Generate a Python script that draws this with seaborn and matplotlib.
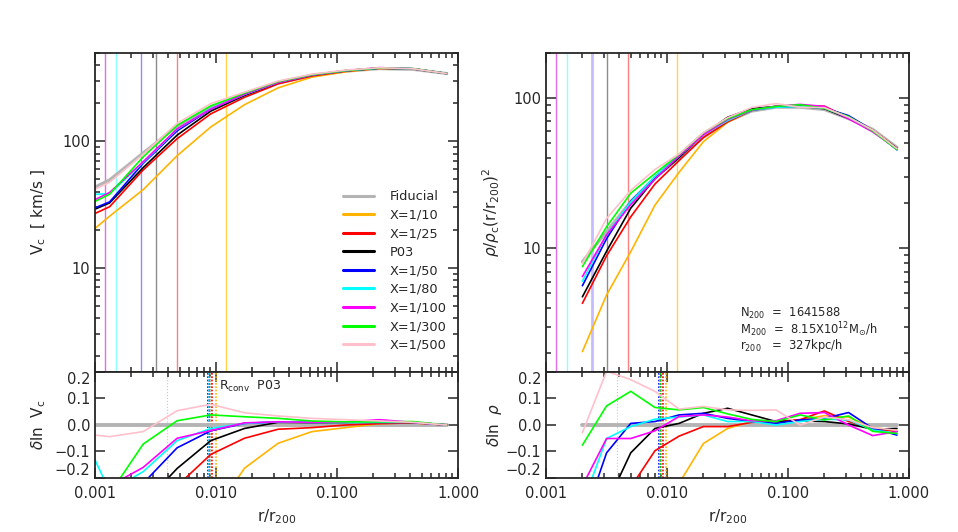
import numpy as np
import pandas as pd
import matplotlib
matplotlib.use("Agg")
import matplotlib.pyplot as plt
import seaborn as sns
from matplotlib.ticker import LogLocator, FuncFormatter, MultipleLocator, NullFormatter

# ---- data ----
runs = ['Fiducial', 'X=1/10', 'X=1/25', 'P03', 'X=1/50', 'X=1/80', 'X=1/100', 'X=1/300', 'X=1/500']
colors = ['#b4b4b4', '#ffb400', '#ff0000', '#000000', '#0000ff', '#00ffff', '#ff00ff', '#00ff00', '#ffc0cb']

# circular velocity radii (left panel)
r_vc = [0.001, 0.00132, 0.0025, 0.00477, 0.00905, 0.0172, 0.0326, 0.062, 0.118, 0.224, 0.425, 0.807]
vc = {
    'Fiducial': [43.5, 49.6, 81, 132, 184, 234, 290, 332, 359, 376, 371, 344],
    'X=1/10':   [20.5, 25.6, 41.5, 77, 130, 195, 265, 322, 355, 378, 374, 344],
    'X=1/25':   [26.9, 30.4, 59.4, 105, 165, 223, 285, 329, 359, 378, 374, 344],
    'P03':      [29.1, 32.6, 62, 112, 173.5, 231, 293, 335, 362, 380, 375, 344],
    'X=1/50':   [29.8, 33.2, 67, 121, 180, 235, 293, 335, 362, 380, 375, 344],
    'X=1/80':   [38.1, 38.6, 68, 124.5, 181.6, 235, 293, 335, 362, 380, 375, 344],
    'X=1/100':  [34.6, 39.4, 69, 125.6, 180, 236, 293, 335, 363, 383, 375, 344],
    'X=1/300':  [33.5, 38.2, 75.4, 134, 191, 241, 297, 337, 363, 380, 376, 344],
    'X=1/500':  [41.9, 47.5, 79, 139, 199, 245, 300, 340, 366, 382, 375, 344],
}
dvc = {
    'Fiducial': [0, 0, 0, 0, 0, 0, 0, 0, 0, 0, 0, 0],
    'X=1/10':   [-0.75, -0.66, -0.67, -0.54, -0.35, -0.163, -0.069, -0.025, -0.01, 0.005, 0.008, 0.0],
    'X=1/25':   [-0.48, -0.49, -0.31, -0.23, -0.111, -0.05, -0.016, -0.01, 0.0, 0.005, 0.008, 0.0],
    'P03':      [-0.4, -0.42, -0.3, -0.164, -0.059, -0.013, 0.01, 0.009, 0.01, 0.012, 0.01, 0.0],
    'X=1/50':   [-0.38, -0.4, -0.22, -0.086, -0.022, 0.006, 0.012, 0.01, 0.01, 0.01, 0.01, 0.0],
    'X=1/80':   [-0.132, -0.25, -0.176, -0.059, -0.013, 0.006, 0.012, 0.01, 0.01, 0.01, 0.01, 0.0],
    'X=1/100':  [-0.23, -0.23, -0.16, -0.05, -0.021, 0.008, 0.012, 0.01, 0.012, 0.02, 0.01, 0.0],
    'X=1/300':  [-0.26, -0.26, -0.072, 0.016, 0.038, 0.031, 0.025, 0.015, 0.012, 0.012, 0.013, 0.0],
    'X=1/500':  [-0.038, -0.044, -0.025, 0.054, 0.078, 0.046, 0.034, 0.025, 0.02, 0.015, 0.01, 0.0],
}

# density radii (right panel)
r_rho = [0.002, 0.00317, 0.00502, 0.00796, 0.0126, 0.02, 0.0317, 0.0502, 0.0796, 0.126, 0.2, 0.317, 0.502, 0.796]
rho = {
    'Fiducial': [8.15, 12.9, 20.5, 29.5, 40, 55, 70, 82, 87, 87, 84, 73, 62, 47],
    'X=1/10':   [2.05, 4.89, 9.49, 19.4, 32.1, 51.3, 69.1, 83.1, 88.1, 88.7, 87.0, 75.2, 61.4, 46.1],
    'X=1/25':   [4.3, 8.91, 16.2, 26.8, 38.4, 54.7, 69.6, 82.8, 88.1, 88.7, 88.5, 73.9, 61.2, 45.8],
    'P03':      [4.75, 9.56, 18.5, 29.1, 40.2, 57.5, 74.6, 85.2, 88.1, 88.3, 85.1, 73.3, 61.0, 46.4],
    'X=1/50':   [5.63, 11.6, 20.6, 29.9, 41.6, 57.5, 71.8, 83.1, 87.5, 88.7, 86.1, 76.5, 61.2, 45.3],
    'X=1/80':   [6.04, 12.3, 20.4, 30.1, 41.2, 57.1, 70.9, 83.1, 87, 88.1, 85.8, 74.4, 60.8, 45.5],
    'X=1/100':  [6.48, 12.3, 19.5, 28.9, 41.3, 57.1, 72.1, 83.3, 88.4, 90.9, 88.1, 73, 59.6, 45.8],
    'X=1/300':  [7.55, 13.9, 23.3, 31.5, 42.3, 58.8, 73, 83.7, 88.1, 90.4, 85.6, 75.5, 60.5, 45.5],
    'X=1/500':  [7.91, 15.8, 24.3, 33.5, 42.5, 59, 74.1, 86.7, 92.1, 87, 86.5, 74.5, 61.4, 46.1],
}
drho = {
    'Fiducial': [0] * 14,
    'X=1/10':   [-1.38, -0.97, -0.77, -0.42, -0.22, -0.07, -0.013, 0.013, 0.013, 0.02, 0.035, 0.03, -0.01, -0.02],
    'X=1/25':   [-0.64, -0.37, -0.235, -0.097, -0.042, -0.006, -0.006, 0.01, 0.013, 0.02, 0.053, 0.013, -0.013, -0.025],
    'P03':      [-0.54, -0.3, -0.105, -0.013, 0.006, 0.044, 0.063, 0.038, 0.013, 0.015, 0.013, 0.004, -0.016, -0.013],
    'X=1/50':   [-0.37, -0.105, 0.006, 0.013, 0.038, 0.044, 0.025, 0.013, 0.006, 0.019, 0.025, 0.047, -0.013, -0.038],
    'X=1/80':   [-0.3, -0.051, -0.006, 0.022, 0.03, 0.038, 0.013, 0.013, 0.0, 0.013, 0.022, 0.019, -0.019, -0.032],
    'X=1/100':  [-0.23, -0.051, -0.051, -0.022, 0.032, 0.038, 0.03, 0.016, 0.016, 0.044, 0.047, 0.0, -0.04, -0.025],
    'X=1/300':  [-0.076, 0.072, 0.127, 0.066, 0.057, 0.066, 0.042, 0.021, 0.013, 0.038, 0.019, 0.034, -0.024, -0.032],
    'X=1/500':  [-0.029, 0.203, 0.171, 0.127, 0.06, 0.07, 0.057, 0.055, 0.057, 0.0, 0.03, 0.02, -0.01, -0.02],
}

# softening markers (top panels) and convergence radii (bottom panels)
soft_r = [0.0012, 0.0015, 0.0024, 0.0032, 0.0048, 0.0121]
soft_col = ['#e070e8', '#90ffff', '#8c8cff', '#8c8c8c', '#ff8080', '#ffd24d']
conv_r = [0.0086, 0.0087, 0.0088, 0.0089, 0.0090, 0.0091, 0.0093, 0.0099]
conv_col = ['#0000ff', '#ff00ff', '#00ffff', '#000000', '#00ff00', '#ffc0cb', '#ff0000', '#ffb400']
info_lines = [r'N$_{200}$  =  1641588',
              r'M$_{200}$  =  8.15X10$^{12}$M$_{\odot}$/h',
              r'r$_{200}$   =  327kpc/h']

sns.set_style("ticks")
plt.rcParams['font.family'] = ['DejaVu Sans']
plt.rcParams['mathtext.fontset'] = 'dejavusans'

fig = plt.figure(figsize=(9.58, 5.32), dpi=100)
ax_vc = fig.add_axes([0.0992, 0.3008, 0.3789, 0.5996])
ax_dvc = fig.add_axes([0.0992, 0.1015, 0.3789, 0.1993])
ax_rho = fig.add_axes([0.5699, 0.3008, 0.3789, 0.5996])
ax_drho = fig.add_axes([0.5699, 0.1015, 0.3789, 0.1993])


def draw(ax, x, data, legend=False, fid_lw=2.2):
    for name, c in zip(runs, colors):
        lw = fid_lw if name == 'Fiducial' else 1.2
        sns.lineplot(x=x, y=data[name], color=c, lw=lw, ax=ax, sort=False,
                     estimator=None, label=name if legend else None, legend=False)


for ax in (ax_vc, ax_rho):
    for xr, c in zip(soft_r, soft_col):
        lw = 2.0 if (ax is ax_rho and c == '#8c8cff') else 1.0
        col = '#c4bcff' if lw == 2.0 else c
        ax.axvline(xr, color=col, lw=lw, zorder=0)

for ax in (ax_dvc, ax_drho):
    ax.axvline(0.0039, color='#c8c8c8', lw=0.8, ls=':', zorder=0)
    for xr, c in zip(conv_r, conv_col):
        ax.axvline(xr, color=c, lw=1.2, ls=(0, (1, 1)), zorder=1)

draw(ax_vc, r_vc, vc, legend=True)
draw(ax_dvc, r_vc, dvc, fid_lw=2.8)
draw(ax_rho, r_rho, rho)
draw(ax_drho, r_rho, drho, fid_lw=2.8)

fmt_x = FuncFormatter(lambda v, p: f'{v:.3f}')
fmt_y = FuncFormatter(lambda v, p: f'{v:g}')

for ax in (ax_vc, ax_dvc, ax_rho, ax_drho):
    ax.set_xscale('log')
    ax.set_xlim(0.001, 1.0)
    ax.xaxis.set_major_locator(LogLocator(base=10, numticks=10))
    ax.xaxis.set_minor_locator(LogLocator(base=10, subs=np.arange(2, 10), numticks=10))
    ax.tick_params(which='both', direction='in', top=True, right=True, labelsize=10.5, width=1.1)
    ax.tick_params(which='major', length=7)
    ax.tick_params(which='minor', length=3.5)
    for s in ax.spines.values():
        s.set_linewidth(1.3)
    ax.set_xlabel('')
    ax.set_ylabel('')

for ax in (ax_vc, ax_rho):
    ax.set_yscale('log')
    ax.yaxis.set_major_locator(LogLocator(base=10, numticks=10))
    ax.yaxis.set_minor_locator(LogLocator(base=10, subs=np.arange(2, 10), numticks=10))
    ax.yaxis.set_major_formatter(fmt_y)
    ax.yaxis.set_minor_formatter(NullFormatter())
    ax.xaxis.set_major_formatter(NullFormatter())
    ax.xaxis.set_minor_formatter(NullFormatter())

ax_vc.set_ylim(1.5, 500)
ax_rho.set_ylim(1.5, 200)

for ax in (ax_dvc, ax_drho):
    ax.set_ylim(-0.2, 0.2)
    ax.yaxis.set_major_locator(MultipleLocator(0.1))
    ax.yaxis.set_major_formatter(FuncFormatter(lambda v, p: f'{v:.1f}'.replace('-', '\u2212')))
    ax.xaxis.set_major_formatter(fmt_x)
    ax.xaxis.set_minor_formatter(NullFormatter())
    ax.tick_params(axis='x', which='major', pad=6)
    ax.set_xlabel(r'r/r$_{200}$', fontsize=11)

ax_vc.set_ylabel(r'V$_{\rm c}$  [ km/s ]', fontsize=11)
ax_vc.yaxis.set_label_coords(-0.13, 0.5)
ax_dvc.set_ylabel(r'$\delta$ln  V$_{\rm c}$', fontsize=11)
ax_dvc.yaxis.set_label_coords(-0.13, 0.5)
ax_rho.set_ylabel(r'$\rho/\rho_{\rm c}({\rm r/r_{200}})^2$', fontsize=11)
ax_rho.yaxis.set_label_coords(-0.12, 0.5)
ax_drho.set_ylabel(r'$\delta$ln  $\rho$', fontsize=11)
ax_drho.yaxis.set_label_coords(-0.115, 0.5)

leg = ax_vc.legend(loc='upper left', bbox_to_anchor=(0.683, 0.57), frameon=False,
                   fontsize=9.3, handlelength=2.4, handletextpad=1.2, labelspacing=0.43,
                   borderpad=0, borderaxespad=0)
for h in leg.get_lines():
    h.set_linewidth(2.2)

ax_dvc.text(0.0105, 0.145, r'R$_{\rm conv}$  P03', fontsize=9, va='center', ha='left')

for i, t in enumerate(info_lines):
    ax_rho.text(0.534, 0.182 - i * 0.05, t, transform=ax_rho.transAxes, fontsize=8.3,
                va='center', ha='left')

# keep the outermost delta labels inside the panel, as in the original
fig.canvas.draw()
for ax in (ax_dvc, ax_drho):
    for tick in ax.yaxis.get_major_ticks():
        v = tick.get_loc()
        if v > 0.15:
            tick.label1.set_va('top')
        elif v < -0.15:
            tick.label1.set_va('bottom')

fig.savefig('out.png', dpi=100)
